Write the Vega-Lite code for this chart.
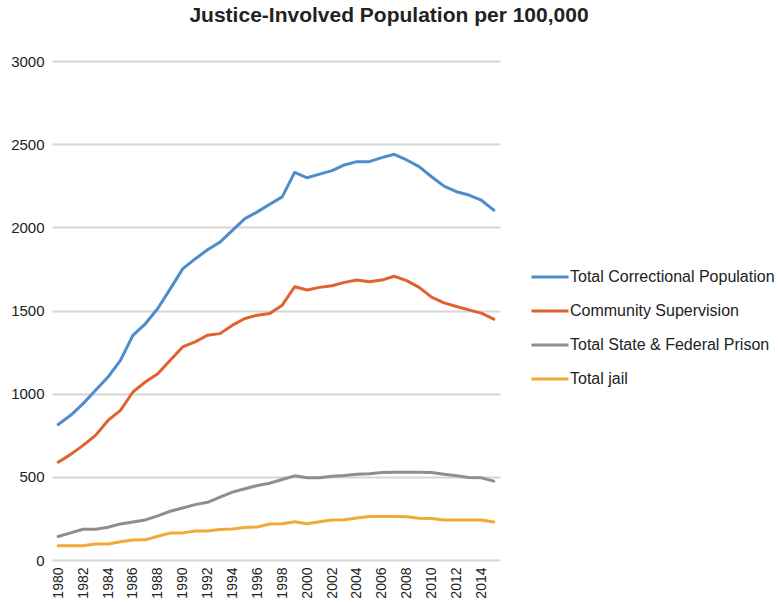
{
  "$schema": "https://vega.github.io/schema/vega-lite/v6.json",
  "width": 448,
  "height": 499,
  "autosize": "none",
  "padding": {"left": 52, "top": 61, "right": 278, "bottom": 43},
  "background": "white",
  "title": {"text": "Justice-Involved Population per 100,000", "fontSize": 21, "fontWeight": "bold", "font": "Liberation Sans", "color": "#222222", "anchor": "middle", "dx": 113, "offset": 28},
  "datasets": {
    "rows": [
      {"year":1980,"s":"Total Correctional Population","v":815},{"year":1981,"s":"Total Correctional Population","v":870},{"year":1982,"s":"Total Correctional Population","v":940},{"year":1983,"s":"Total Correctional Population","v":1020},{"year":1984,"s":"Total Correctional Population","v":1100},{"year":1985,"s":"Total Correctional Population","v":1200},{"year":1986,"s":"Total Correctional Population","v":1350},{"year":1987,"s":"Total Correctional Population","v":1420},{"year":1988,"s":"Total Correctional Population","v":1512},{"year":1989,"s":"Total Correctional Population","v":1630},{"year":1990,"s":"Total Correctional Population","v":1750},{"year":1991,"s":"Total Correctional Population","v":1810},{"year":1992,"s":"Total Correctional Population","v":1865},{"year":1993,"s":"Total Correctional Population","v":1911},{"year":1994,"s":"Total Correctional Population","v":1982},{"year":1995,"s":"Total Correctional Population","v":2052},{"year":1996,"s":"Total Correctional Population","v":2093},{"year":1997,"s":"Total Correctional Population","v":2139},{"year":1998,"s":"Total Correctional Population","v":2183},{"year":1999,"s":"Total Correctional Population","v":2330},{"year":2000,"s":"Total Correctional Population","v":2298},{"year":2001,"s":"Total Correctional Population","v":2320},{"year":2002,"s":"Total Correctional Population","v":2341},{"year":2003,"s":"Total Correctional Population","v":2375},{"year":2004,"s":"Total Correctional Population","v":2395},{"year":2005,"s":"Total Correctional Population","v":2395},{"year":2006,"s":"Total Correctional Population","v":2419},{"year":2007,"s":"Total Correctional Population","v":2439},{"year":2008,"s":"Total Correctional Population","v":2405},{"year":2009,"s":"Total Correctional Population","v":2365},{"year":2010,"s":"Total Correctional Population","v":2304},{"year":2011,"s":"Total Correctional Population","v":2248},{"year":2012,"s":"Total Correctional Population","v":2214},{"year":2013,"s":"Total Correctional Population","v":2194},{"year":2014,"s":"Total Correctional Population","v":2163},{"year":2015,"s":"Total Correctional Population","v":2103},
      {"year":1980,"s":"Community Supervision","v":588},{"year":1981,"s":"Community Supervision","v":635},{"year":1982,"s":"Community Supervision","v":689},{"year":1983,"s":"Community Supervision","v":749},{"year":1984,"s":"Community Supervision","v":839},{"year":1985,"s":"Community Supervision","v":900},{"year":1986,"s":"Community Supervision","v":1010},{"year":1987,"s":"Community Supervision","v":1070},{"year":1988,"s":"Community Supervision","v":1120},{"year":1989,"s":"Community Supervision","v":1201},{"year":1990,"s":"Community Supervision","v":1281},{"year":1991,"s":"Community Supervision","v":1311},{"year":1992,"s":"Community Supervision","v":1351},{"year":1993,"s":"Community Supervision","v":1361},{"year":1994,"s":"Community Supervision","v":1412},{"year":1995,"s":"Community Supervision","v":1452},{"year":1996,"s":"Community Supervision","v":1472},{"year":1997,"s":"Community Supervision","v":1482},{"year":1998,"s":"Community Supervision","v":1532},{"year":1999,"s":"Community Supervision","v":1643},{"year":2000,"s":"Community Supervision","v":1623},{"year":2001,"s":"Community Supervision","v":1639},{"year":2002,"s":"Community Supervision","v":1649},{"year":2003,"s":"Community Supervision","v":1669},{"year":2004,"s":"Community Supervision","v":1683},{"year":2005,"s":"Community Supervision","v":1673},{"year":2006,"s":"Community Supervision","v":1683},{"year":2007,"s":"Community Supervision","v":1706},{"year":2008,"s":"Community Supervision","v":1680},{"year":2009,"s":"Community Supervision","v":1639},{"year":2010,"s":"Community Supervision","v":1580},{"year":2011,"s":"Community Supervision","v":1546},{"year":2012,"s":"Community Supervision","v":1524},{"year":2013,"s":"Community Supervision","v":1504},{"year":2014,"s":"Community Supervision","v":1484},{"year":2015,"s":"Community Supervision","v":1448},
      {"year":1980,"s":"Total State & Federal Prison","v":141},{"year":1981,"s":"Total State & Federal Prison","v":163},{"year":1982,"s":"Total State & Federal Prison","v":185},{"year":1983,"s":"Total State & Federal Prison","v":185},{"year":1984,"s":"Total State & Federal Prison","v":197},{"year":1985,"s":"Total State & Federal Prison","v":217},{"year":1986,"s":"Total State & Federal Prison","v":229},{"year":1987,"s":"Total State & Federal Prison","v":241},{"year":1988,"s":"Total State & Federal Prison","v":265},{"year":1989,"s":"Total State & Federal Prison","v":293},{"year":1990,"s":"Total State & Federal Prison","v":313},{"year":1991,"s":"Total State & Federal Prison","v":333},{"year":1992,"s":"Total State & Federal Prison","v":347},{"year":1993,"s":"Total State & Federal Prison","v":378},{"year":1994,"s":"Total State & Federal Prison","v":408},{"year":1995,"s":"Total State & Federal Prison","v":428},{"year":1996,"s":"Total State & Federal Prison","v":448},{"year":1997,"s":"Total State & Federal Prison","v":462},{"year":1998,"s":"Total State & Federal Prison","v":484},{"year":1999,"s":"Total State & Federal Prison","v":506},{"year":2000,"s":"Total State & Federal Prison","v":494},{"year":2001,"s":"Total State & Federal Prison","v":494},{"year":2002,"s":"Total State & Federal Prison","v":504},{"year":2003,"s":"Total State & Federal Prison","v":508},{"year":2004,"s":"Total State & Federal Prison","v":516},{"year":2005,"s":"Total State & Federal Prison","v":518},{"year":2006,"s":"Total State & Federal Prison","v":526},{"year":2007,"s":"Total State & Federal Prison","v":527},{"year":2008,"s":"Total State & Federal Prison","v":527},{"year":2009,"s":"Total State & Federal Prison","v":527},{"year":2010,"s":"Total State & Federal Prison","v":526},{"year":2011,"s":"Total State & Federal Prison","v":516},{"year":2012,"s":"Total State & Federal Prison","v":506},{"year":2013,"s":"Total State & Federal Prison","v":496},{"year":2014,"s":"Total State & Federal Prison","v":494},{"year":2015,"s":"Total State & Federal Prison","v":474},
      {"year":1980,"s":"Total jail","v":86},{"year":1981,"s":"Total jail","v":86},{"year":1982,"s":"Total jail","v":86},{"year":1983,"s":"Total jail","v":96},{"year":1984,"s":"Total jail","v":96},{"year":1985,"s":"Total jail","v":110},{"year":1986,"s":"Total jail","v":120},{"year":1987,"s":"Total jail","v":121},{"year":1988,"s":"Total jail","v":143},{"year":1989,"s":"Total jail","v":162},{"year":1990,"s":"Total jail","v":163},{"year":1991,"s":"Total jail","v":174},{"year":1992,"s":"Total jail","v":175},{"year":1993,"s":"Total jail","v":184},{"year":1994,"s":"Total jail","v":187},{"year":1995,"s":"Total jail","v":196},{"year":1996,"s":"Total jail","v":198},{"year":1997,"s":"Total jail","v":216},{"year":1998,"s":"Total jail","v":218},{"year":1999,"s":"Total jail","v":230},{"year":2000,"s":"Total jail","v":218},{"year":2001,"s":"Total jail","v":230},{"year":2002,"s":"Total jail","v":241},{"year":2003,"s":"Total jail","v":242},{"year":2004,"s":"Total jail","v":252},{"year":2005,"s":"Total jail","v":261},{"year":2006,"s":"Total jail","v":261},{"year":2007,"s":"Total jail","v":261},{"year":2008,"s":"Total jail","v":260},{"year":2009,"s":"Total jail","v":251},{"year":2010,"s":"Total jail","v":250},{"year":2011,"s":"Total jail","v":240},{"year":2012,"s":"Total jail","v":240},{"year":2013,"s":"Total jail","v":240},{"year":2014,"s":"Total jail","v":240},{"year":2015,"s":"Total jail","v":229}
    ]
  },
  "data": {"name": "rows"},
  "mark": {"type": "line", "strokeWidth": 3, "strokeCap": "round", "strokeJoin": "round"},
  "encoding": {
    "x": {
      "field": "year", "type": "ordinal",
      "scale": {"type": "point", "padding": 0.5},
      "axis": {
        "title": null,
        "values": [1980,1982,1984,1986,1988,1990,1992,1994,1996,1998,2000,2002,2004,2006,2008,2010,2012,2014],
        "labelAngle": -90, "labelFontSize": 14, "labelFont": "Liberation Sans", "labelColor": "#222222",
        "labelPadding": 7, "domain": false, "ticks": false, "grid": false
      }
    },
    "y": {
      "field": "v", "type": "quantitative",
      "scale": {"domain": [0, 3000], "nice": false},
      "axis": {
        "title": null, "values": [0,500,1000,1500,2000,2500,3000], "format": "d",
        "labelFontSize": 15, "labelFont": "Liberation Sans", "labelColor": "#222222",
        "labelPadding": 8, "domain": false, "ticks": false,
        "grid": true, "gridColor": "#d6d6d6", "gridWidth": 2
      }
    },
    "color": {
      "field": "s", "type": "nominal",
      "scale": {
        "domain": ["Total Correctional Population", "Community Supervision", "Total State & Federal Prison", "Total jail"],
        "range": ["#4e8dcb", "#e0622c", "#8e8e8e", "#f2a935"]
      },
      "legend": {
        "title": null, "orient": "none", "legendX": 478, "legendY": 196,
        "symbolType": "stroke", "symbolSize": 1369, "symbolStrokeWidth": 3,
        "labelFontSize": 16, "labelFont": "Liberation Sans", "labelColor": "#222222",
        "labelLimit": 300, "labelOffset": 0, "rowPadding": 6, "padding": 0
      }
    }
  },
  "config": {"view": {"stroke": null}}
}
